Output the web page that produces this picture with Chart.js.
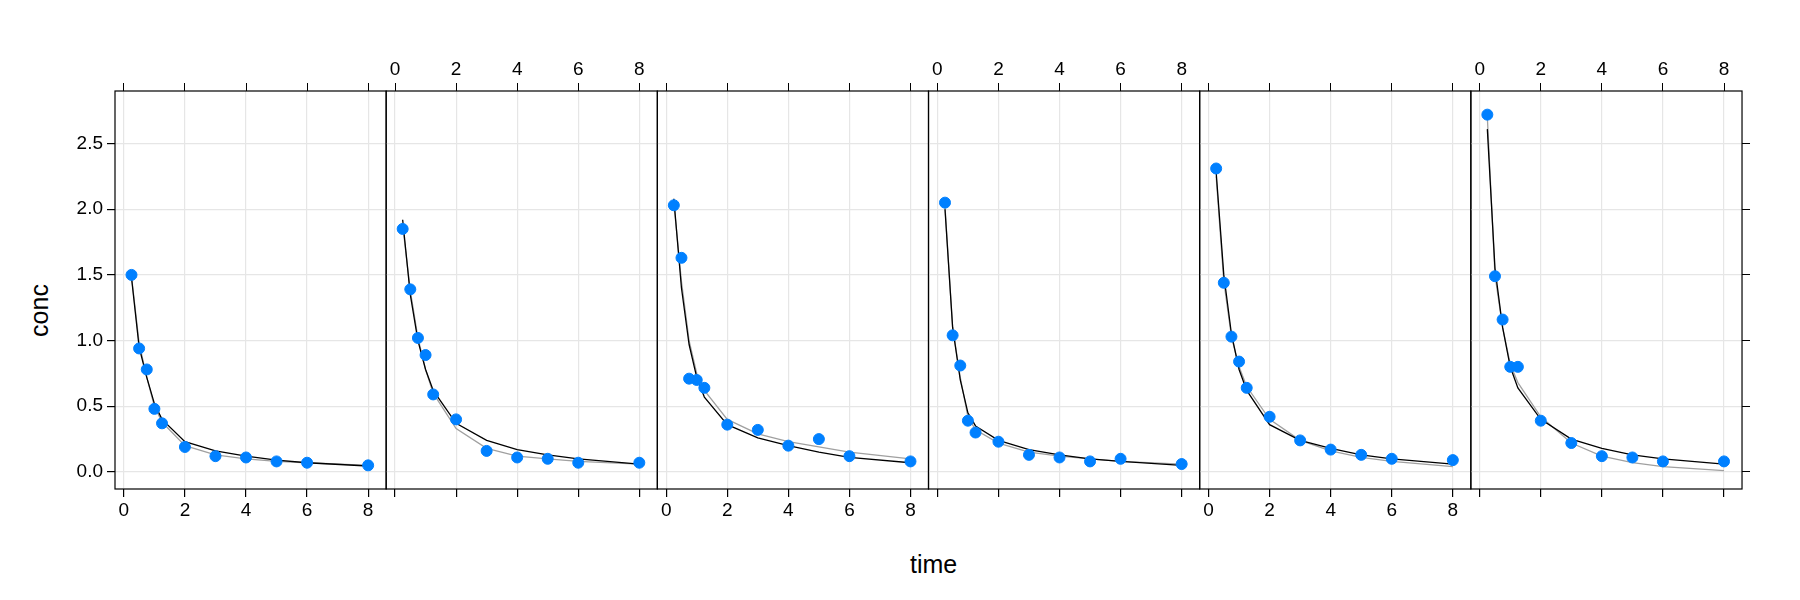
<!DOCTYPE html>
<html><head><meta charset="utf-8">
<script src="https://cdn.jsdelivr.net/npm/chart.js@4/dist/chart.umd.min.js"></script>
<style>body{margin:0;background:#fff;width:1800px;height:600px;position:relative;overflow:hidden;font-family:"Liberation Sans",Arial,sans-serif}
canvas{position:absolute;left:0;top:0}
.lab{position:absolute;font-size:25px;color:#000}</style></head><body>
<div class="lab" style="left:910px;top:550px;">time</div>
<div class="lab" style="left:4px;top:296px;transform:rotate(-90deg);transform-origin:center;width:70px;text-align:center">conc</div>
<script>
const times=[0.25,0.5,0.75,1,1.25,2,3,4,5,6,8];
const xTicks=[0,2,4,6,8];
const yTicks=[0,0.5,1,1.5,2,2.5];
// panels in display order: subjects 1,4,2,5,6,3
const obs1=[1.50,0.94,0.78,0.48,0.37,0.19,0.12,0.11,0.08,0.07,0.05];
const obs4=[1.85,1.39,1.02,0.89,0.59,0.40,0.16,0.11,0.10,0.07,0.07];
const obs2=[2.03,1.63,0.71,0.70,0.64,0.36,0.32,0.20,0.25,0.12,0.08];
const obs5=[2.05,1.04,0.81,0.39,0.30,0.23,0.13,0.11,0.08,0.10,0.06];
const obs6=[2.31,1.44,1.03,0.84,0.64,0.42,0.24,0.17,0.13,0.10,0.09];
const obs3=[2.72,1.49,1.16,0.80,0.80,0.39,0.22,0.12,0.11,0.08,0.08];
const fit1=[1.48,0.95,0.72,0.52,0.40,0.23,0.16,0.12,0.09,0.07,0.045];
const fit4=[1.92,1.35,1.00,0.78,0.62,0.37,0.24,0.17,0.13,0.10,0.06];
const fit2=[2.08,1.40,0.97,0.72,0.57,0.36,0.26,0.20,0.15,0.11,0.07];
const fit5=[2.00,1.10,0.70,0.45,0.35,0.24,0.17,0.13,0.10,0.08,0.05];
const fit6=[2.28,1.50,1.05,0.78,0.62,0.36,0.24,0.18,0.13,0.10,0.06];
const fit3=[2.61,1.55,1.10,0.80,0.64,0.40,0.25,0.18,0.13,0.10,0.06];
const pop1=[1.49,0.98,0.72,0.50,0.38,0.20,0.13,0.10,0.08,0.07,0.05];
const pop4=[1.88,1.38,1.02,0.78,0.60,0.33,0.18,0.12,0.10,0.08,0.06];
const pop2=[2.05,1.45,1.00,0.75,0.62,0.40,0.29,0.23,0.19,0.15,0.10];
const pop5=[2.02,1.10,0.72,0.42,0.32,0.22,0.15,0.12,0.10,0.08,0.06];
const pop6=[2.25,1.45,1.03,0.80,0.65,0.40,0.24,0.16,0.11,0.08,0.04];
const pop3=[2.70,1.50,1.10,0.82,0.68,0.42,0.22,0.12,0.07,0.04,0.01];
const panels=[[obs1,fit1,pop1],[obs4,fit4,pop4],[obs2,fit2,pop2],[obs5,fit5,pop5],[obs6,fit6,pop6],[obs3,fit3,pop3]];
const X0=115,PW=271.17,TOP=91,BOT=489,AX=32,AY=50;
const font={family:'"Liberation Sans",Arial,sans-serif',size:19};
function fix(sz,horiz){return s=>{if(horiz)s.height=sz;else s.width=sz;s.paddingLeft=s.paddingRight=s.paddingTop=s.paddingBottom=0;};}
function setT(arr){return s=>{s.ticks=arr.map(v=>({value:v}));};}
const border={id:'bd',afterDraw(c){const a=c.chartArea,g=c.ctx;g.save();g.strokeStyle='#000';g.lineWidth=1.2;g.strokeRect(a.left,a.top,a.right-a.left,a.bottom-a.top);g.restore();}};
panels.forEach((p,i)=>{
  const cv=document.createElement('canvas');cv.width=1800;cv.height=600;document.body.appendChild(cv);
  const L=X0+i*PW,R=L+PW,labBottom=(i%2===0),first=i===0,last=i===5;
  const pts=a=>times.map((t,k)=>({x:t,y:a[k]}));
  new Chart(cv,{type:'scatter',data:{datasets:[
    {data:pts(p[0]),backgroundColor:'#0080ff',borderColor:'#0080ff',pointRadius:5.5,showLine:false},
    {data:pts(p[1]),showLine:true,borderColor:'#000',borderWidth:1.3,pointRadius:0},
    {data:pts(p[2]),showLine:true,borderColor:'#a0a0a0',borderWidth:1.3,pointRadius:0}]},
   options:{responsive:false,animation:false,devicePixelRatio:1,
    plugins:{legend:{display:false},tooltip:{enabled:false}},
    layout:{padding:{left:L-AY,right:1800-R-AY,top:TOP-AX,bottom:600-BOT-AX}},
    scales:{
     x:{type:'linear',position:'bottom',min:-0.29,max:8.59,afterFit:fix(AX,true),afterBuildTicks:setT(xTicks),
        grid:{color:'#e6e6e6',tickColor:'#000',tickLength:8,lineWidth:1.2},border:{display:false},
        ticks:{display:labBottom,color:'#000',font,padding:2,maxRotation:0}},
     x2:{type:'linear',position:'top',min:-0.29,max:8.59,afterFit:fix(AX,true),afterBuildTicks:setT(xTicks),
        grid:{drawOnChartArea:false,tickColor:'#000',tickLength:8},border:{display:false},
        ticks:{display:!labBottom,color:'#000',font,padding:2,maxRotation:0}},
     y:{type:'linear',position:'left',min:-0.13,max:2.9,afterFit:fix(AY,false),afterBuildTicks:setT(yTicks),
        grid:{color:'#e6e6e6',tickColor:'#000',tickLength:8,drawTicks:first,lineWidth:1.2},border:{display:false},
        ticks:{display:first,color:'#000',font,padding:4,callback:v=>v.toFixed(1)}},
     y2:{type:'linear',position:'right',min:-0.13,max:2.9,afterFit:fix(AY,false),afterBuildTicks:setT(yTicks),
        grid:{drawOnChartArea:false,tickColor:'#000',tickLength:8,drawTicks:last},border:{display:false},
        ticks:{display:false}}
    }},plugins:[border]});
});
</script></body></html>
